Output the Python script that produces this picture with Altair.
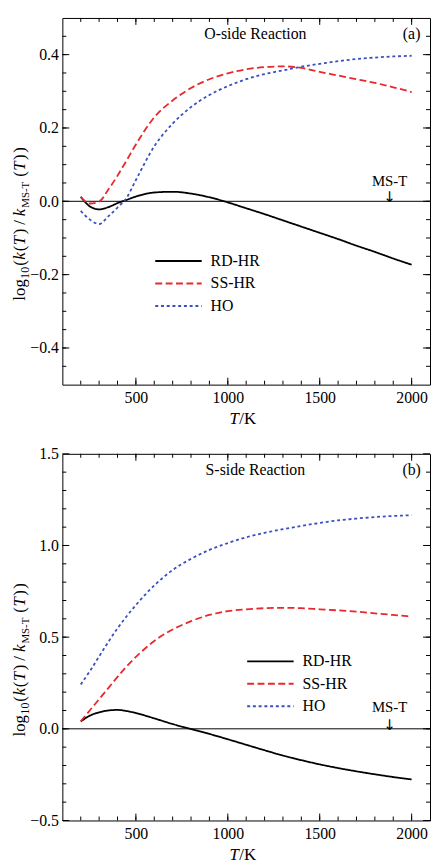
import altair as alt
import pandas as pd

FONT = "Liberation Serif"
W, H = 372, 371

# ---------------- data ----------------
T = [200, 250, 300, 350, 400, 450, 500, 600, 700, 800, 900, 1000,
     1100, 1200, 1300, 1400, 1500, 1600, 1700, 1800, 1900, 2000]

A_RD = [0.012, -0.014, -0.022, -0.016, -0.005, 0.004, 0.013, 0.024, 0.026, 0.021, 0.011, -0.003,
        -0.019, -0.035, -0.052, -0.069, -0.086, -0.103, -0.121, -0.138, -0.156, -0.173]
A_SS = [0.012, -0.006, -0.001, 0.032, 0.070, 0.112, 0.155, 0.229, 0.275, 0.309, 0.333, 0.349,
        0.360, 0.366, 0.368, 0.364, 0.353, 0.343, 0.333, 0.323, 0.311, 0.298]
A_HO = [-0.026, -0.050, -0.062, -0.041, -0.017, 0.010, 0.058, 0.150, 0.212, 0.257, 0.290, 0.314,
        0.333, 0.347, 0.357, 0.367, 0.375, 0.382, 0.388, 0.392, 0.395, 0.397]

B_RD = [0.040, 0.072, 0.090, 0.100, 0.103, 0.097, 0.086, 0.057, 0.026, -0.001, -0.028, -0.057,
        -0.087, -0.117, -0.146, -0.171, -0.194, -0.214, -0.232, -0.248, -0.263, -0.276]
B_SS = [0.041, 0.101, 0.162, 0.222, 0.283, 0.341, 0.392, 0.479, 0.542, 0.587, 0.621, 0.642,
        0.652, 0.658, 0.660, 0.658, 0.652, 0.646, 0.639, 0.630, 0.621, 0.612]
B_HO = [0.242, 0.315, 0.395, 0.474, 0.548, 0.614, 0.675, 0.782, 0.866, 0.927, 0.976, 1.013,
        1.045, 1.069, 1.089, 1.107, 1.123, 1.137, 1.147, 1.155, 1.161, 1.165]

SERIES = ["RD-HR", "SS-HR", "HO"]
COLORS = ["#000000", "#e8282b", "#3b4fc0"]
DASHES = [[1, 0], [7, 3.5], [3, 2.8]]

X_DOMAIN = [100, 2100]
X_MAJOR = [500, 1000, 1500, 2000]
X_MINOR = list(range(200, 2001, 100))

A_DOMAIN = [-0.5, 0.5]
A_MAJOR = [-0.4, -0.2, 0.0, 0.2, 0.4]
A_MINOR = [round(-0.45 + 0.05 * i, 2) for i in range(19)]

B_DOMAIN = [-0.5, 1.5]
B_MAJOR = [-0.5, 0.0, 0.5, 1.0, 1.5]
B_MINOR = [round(-0.4 + 0.1 * i, 1) for i in range(19)]

# Times / Liberation Serif advance widths (em)
ADV = {"l": .278, "o": .5, "g": .5, "1": .5, "0": .5, "(": .333, ")": .333,
       "k": .444, "T": .556, "/": .278, "M": .889, "S": .556, "-": .333,
       "K": .722, " ": .25}
ADV_REG = {"T": .611, "k": .5}


def width(txt, size, italic):
    w = 0
    for c in txt:
        if not italic and c in ADV_REG:
            w += ADV_REG[c]
        else:
            w += ADV.get(c, .5)
    return w * size


def long_df(cols):
    rows = []
    for name, vals in zip(SERIES, cols):
        for t, v in zip(T, vals):
            rows.append({"T": t, "v": v, "model": name})
    return pd.DataFrame(rows)


ONE = pd.DataFrame({"a": [0]})


def ytitle_layers():
    # (text, size, italic, gap_before, baseline_shift)
    pieces = [("log", 17, False, 0, 0), ("10", 12, False, 0.5, 4),
              ("(", 17, False, 1, 0), ("k", 17, True, 0.5, 0),
              ("(", 17, False, 1, 0), ("T", 17, True, 0.5, 0),
              (")", 17, False, 1.5, 0), ("/", 17, False, 4, 0),
              ("k", 17, True, 4, 0), ("MS-T", 11, False, 1, 4),
              ("(", 17, False, 5, 0), ("T", 17, True, 0.5, 0),
              (")", 17, False, 1.5, 0), (")", 17, False, 1.5, 0)]
    layers = []
    pos = 286.0
    for txt, size, it, gap, sh in pieces:
        pos -= gap
        layers.append(alt.Chart(ONE).mark_text(
            text=txt, font=FONT, fontSize=size, fontStyle="italic" if it else "normal",
            angle=270, align="left", baseline="alphabetic", color="black"
        ).encode(x=alt.value(-38 + sh), y=alt.value(pos)))
        pos -= width(txt, size, it)
    return layers


def xtitle_layers():
    pieces = [("T", 17, True, 0), ("/K", 17, False, 0.5)]
    total = sum(width(t, s, i) + g for t, s, i, g in pieces)
    pos = 182.5 - total / 2
    layers = []
    for txt, size, it, gap in pieces:
        pos += gap
        layers.append(alt.Chart(ONE).mark_text(
            text=txt, font=FONT, fontSize=size, fontStyle="italic" if it else "normal",
            align="left", baseline="alphabetic", color="black"
        ).encode(x=alt.value(pos), y=alt.value(H + 40)))
        pos += width(txt, size, it)
    return layers


def panel(df, ydom, ymajor, yminor, title, tag, title_v, leg_xy, mst_dy):
    x = alt.X("T:Q", scale=alt.Scale(domain=X_DOMAIN, nice=False, zero=False),
              axis=alt.Axis(values=X_MAJOR, format="d", ticks=False, domain=False,
                            grid=False, title=None, labelFont=FONT, labelFontSize=16,
                            labelColor="black", labelPadding=5))
    y = alt.Y("v:Q", scale=alt.Scale(domain=ydom, nice=False, zero=False),
              axis=alt.Axis(values=ymajor, format=".1f", ticks=False, domain=False,
                            grid=False, title=None, labelFont=FONT, labelFontSize=16,
                            labelColor="black", labelPadding=4))
    leg = dict(orient="none", legendX=leg_xy[0], legendY=leg_xy[1], title=None,
               symbolType="stroke", symbolSize=2209, symbolStrokeWidth=2, clipHeight=16,
               rowPadding=6.7, labelFont=FONT, labelFontSize=16, labelOffset=8,
               labelColor="black", padding=0)
    lines = alt.Chart(df).mark_line(strokeWidth=1.8, interpolate="monotone").encode(
        x=x, y=y,
        color=alt.Color("model:N", scale=alt.Scale(domain=SERIES, range=COLORS),
                        sort=SERIES, legend=alt.Legend(**leg)),
        strokeDash=alt.StrokeDash("model:N", scale=alt.Scale(domain=SERIES, range=DASHES),
                                  sort=SERIES, legend=alt.Legend(**leg)),
    )
    zero = alt.Chart(pd.DataFrame({"v": [0.0]})).mark_rule(color="black", strokeWidth=1).encode(y=y)

    def ticks(xvals, yvals, L):
        dx = pd.DataFrame({"T": xvals})
        dy = pd.DataFrame({"v": yvals})
        return [
            alt.Chart(dx).mark_rule(color="black", strokeWidth=1).encode(x=x, y=alt.value(0), y2=alt.value(L)),
            alt.Chart(dx).mark_rule(color="black", strokeWidth=1).encode(x=x, y=alt.value(H), y2=alt.value(H - L)),
            alt.Chart(dy).mark_rule(color="black", strokeWidth=1).encode(y=y, x=alt.value(0), x2=alt.value(L)),
            alt.Chart(dy).mark_rule(color="black", strokeWidth=1).encode(y=y, x=alt.value(W), x2=alt.value(W - L)),
        ]

    ann = pd.DataFrame({"T": [1150, 2000], "v": [title_v, title_v], "label": [title, tag]})
    ann_l = alt.Chart(ann).mark_text(font=FONT, fontSize=16, baseline="middle", align="center",
                                     color="black").encode(x=x, y=y, text="label:N")
    mst = pd.DataFrame({"T": [1880], "v": [0.0], "label": ["MS-T"], "arrow": ["↓"]})
    mst_t = alt.Chart(mst).mark_text(font=FONT, fontSize=15, baseline="middle", align="center",
                                     dy=mst_dy, color="black").encode(x=x, y=y, text="label:N")
    mst_a = alt.Chart(mst).mark_text(font="DejaVu Sans", fontSize=15, baseline="alphabetic",
                                     align="center", dy=1, color="black").encode(
        x=x, y=y, text="arrow:N")
    layers = [zero, lines, ann_l, mst_t, mst_a]
    layers += ticks(X_MINOR, yminor, 4)
    layers += ticks(X_MAJOR, ymajor, 7)
    layers += ytitle_layers() + xtitle_layers()
    return alt.layer(*layers).properties(width=W, height=H)


pa = panel(long_df([A_RD, A_SS, A_HO]), A_DOMAIN, A_MAJOR, A_MINOR,
           "O-side Reaction", "(a)", 0.455, (93, 238), -20)
pb = panel(long_df([B_RD, B_SS, B_HO]), B_DOMAIN, B_MAJOR, B_MINOR,
           "S-side Reaction", "(b)", 1.41, (186, 202), -22)

chart = alt.vconcat(pa, pb, spacing=17).resolve_scale(
    color="independent", strokeDash="independent"
).properties(
    padding={"left": 2, "top": 4, "right": 0, "bottom": 0}
).configure_view(stroke="black", strokeWidth=1)

chart.save("out.html", embed_options={"renderer": "svg", "actions": False})
